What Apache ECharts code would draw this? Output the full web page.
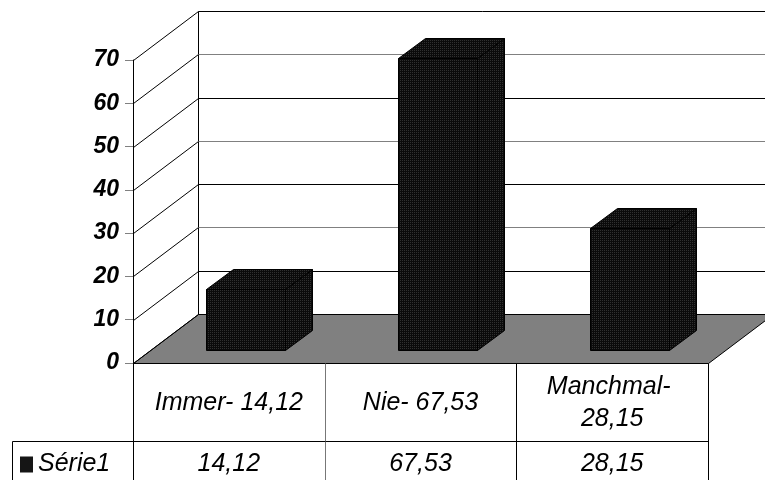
<!DOCTYPE html>
<html>
<head>
<meta charset="utf-8">
<script src="https://cdn.jsdelivr.net/npm/echarts@6/dist/echarts.min.js"></script>
<style>
  html, body { margin: 0; padding: 0; background: #fff; }
  #chart { width: 765px; height: 480px; }
</style>
</head>
<body>
<div id="chart"></div>
<script>
// ---- data ----
const categories = ['Immer- 14,12', 'Nie- 67,53', 'Manchmal- 28,15'];
const seriesName = 'Série1';
const values = [14.12, 67.53, 28.15];
const yTicks = [0, 10, 20, 30, 40, 50, 60, 70];

// ---- 3-D box geometry (pixel offsets) ----
const WALL_DX = 65, WALL_DY = -49;      // front plane -> back wall
const BAR_DX = 17, BAR_DY = -13;        // front plane -> bar front face
const BAR_DEPTH_DX = 27, BAR_DEPTH_DY = -20;
const BAR_WIDTH_RATIO = 0.41;
const ROW1_H = 78;                       // height of the category row of the data table
const TABLE_LEFT = 12;
const FONT = '"Liberation Sans", Arial, sans-serif';

function fmt(v) { return v.toFixed(2).replace('.', ','); }

// dotted dark fill used on the bar faces
function makePattern() {
  const c = document.createElement('canvas');
  c.width = 2; c.height = 2;
  const g = c.getContext('2d');
  g.fillStyle = '#0b0b0b';
  g.fillRect(0, 0, 2, 2);
  g.fillStyle = '#303030';
  g.fillRect(0, 0, 1, 1);
  return c;
}
const barFill = { image: makePattern(), repeat: 'repeat' };

const chart = echarts.init(document.getElementById('chart'), null, { renderer: 'canvas' });

const option = {
  animation: false,
  backgroundColor: '#fff',
  grid: { left: 133, top: 60, width: 575, bottom: 117, containLabel: false },
  legend: {
    data: [seriesName],
    left: 20,
    top: 452,
    padding: 0,
    icon: 'rect',
    itemWidth: 13,
    itemHeight: 16,
    selectedMode: false,
    textStyle: { fontFamily: FONT, fontStyle: 'italic', fontSize: 25, color: '#000' }
  },
  xAxis: {
    type: 'category',
    data: categories,
    axisLine: { show: true, lineStyle: { color: '#000', width: 1 } },
    axisTick: { show: false },
    axisLabel: { show: false },
    splitLine: { show: false }
  },
  yAxis: {
    type: 'value',
    min: yTicks[0],
    max: yTicks[yTicks.length - 1],
    interval: 10,
    axisLine: { show: true, lineStyle: { color: '#000', width: 1 } },
    axisTick: { show: true, length: 8, lineStyle: { color: '#808080' } },
    axisLabel: {
      margin: 14,
      color: '#000',
      fontFamily: FONT,
      fontStyle: 'italic',
      fontWeight: 'bold',
      fontSize: 23
    },
    splitLine: { show: false }
  },
  series: [
    {
      // side wall, back wall and floor
      type: 'custom',
      name: 'frame',
      silent: true,
      clip: false,
      data: yTicks.map(t => [0, t]),
      renderItem(params, api) {
        const cs = params.coordSys;
        const v = api.value(1);
        const y = Math.round(api.coord([0, v])[1]) + 0.5;
        const x = cs.x + 0.5;
        const children = [];
        if (params.dataIndex === 0) {
          const yTop = Math.round(api.coord([0, yTicks[yTicks.length - 1]])[1]) + 0.5;
          children.push({
            type: 'polygon',
            shape: { points: [[x, y], [x + cs.width, y], [x + cs.width + WALL_DX, y + WALL_DY], [x + WALL_DX, y + WALL_DY]] },
            style: { fill: '#808080', stroke: '#000', lineWidth: 1 }
          });
          children.push({
            type: 'line',
            shape: { x1: x + WALL_DX, y1: y + WALL_DY, x2: x + WALL_DX, y2: yTop + WALL_DY },
            style: { stroke: '#000', lineWidth: 1 }
          });
        }
        const idx = params.dataIndex;
        const gray = idx > 0 && idx < yTicks.length - 1 && idx % 2 === 0;
        children.push({
          type: 'line',
          shape: { x1: x, y1: y, x2: x + WALL_DX, y2: y + WALL_DY },
          style: { stroke: '#000', lineWidth: 1 }
        });
        children.push({
          type: 'line',
          shape: { x1: x + WALL_DX, y1: y + WALL_DY, x2: x + WALL_DX + cs.width + 10, y2: y + WALL_DY },
          style: { stroke: gray ? '#808080' : '#000', lineWidth: 1 }
        });
        return { type: 'group', children };
      }
    },
    {
      // 3-D columns
      type: 'custom',
      name: seriesName,
      clip: false,
      itemStyle: { color: '#151515' },
      data: values.map((v, i) => [i, v]),
      renderItem(params, api) {
        const i = api.value(0);
        const v = api.value(1);
        const base = api.coord([i, 0]);
        const top = api.coord([i, v]);
        const band = api.size([1, 0])[0];
        const w = Math.round(band * BAR_WIDTH_RATIO);
        const x0 = Math.round(base[0] - w / 2 + BAR_DX) + 0.5;
        const x1 = x0 + w;
        const yb = Math.round(base[1] + BAR_DY) + 0.5;
        const yt = Math.round(top[1] + BAR_DY) + 0.5;
        const dx = BAR_DEPTH_DX, dy = BAR_DEPTH_DY;
        const st = { fill: barFill, stroke: '#000', lineWidth: 1 };
        return {
          type: 'group',
          children: [
            { type: 'polygon', shape: { points: [[x1, yt], [x1 + dx, yt + dy], [x1 + dx, yb + dy], [x1, yb]] }, style: st },
            { type: 'polygon', shape: { points: [[x0, yt], [x1, yt], [x1 + dx, yt + dy], [x0 + dx, yt + dy]] }, style: st },
            { type: 'rect', shape: { x: x0, y: yt, width: w, height: yb - yt }, style: st }
          ]
        };
      }
    },
    {
      // data table under the plot
      type: 'custom',
      name: 'table',
      silent: true,
      clip: false,
      data: values.map((v, i) => [i, v]),
      renderItem(params, api) {
        const cs = params.coordSys;
        const i = api.value(0);
        const v = api.value(1);
        const band = api.size([1, 0])[0];
        const cx = api.coord([i, 0])[0];
        const left = Math.round(cx - band / 2) + 0.5;
        const right = Math.round(cx + band / 2) + 0.5;
        const top = Math.round(cs.y + cs.height) + 0.5;
        const split = top + ROW1_H;
        const bottom = api.getHeight() + 2;
        const ln = (x1, y1, x2, y2, c) => ({ type: 'line', shape: { x1, y1, x2, y2 }, style: { stroke: c || '#000', lineWidth: 1 } });
        const children = [
          ln(left, top, left, bottom, i === 1 ? '#777' : '#000'),
          ln(left, split, right, split)
        ];
        if (i === categories.length - 1) children.push(ln(right, top, right, bottom));
        if (i === 0) {
          children.push(ln(TABLE_LEFT + 0.5, split, left, split));
          children.push(ln(TABLE_LEFT + 0.5, split, TABLE_LEFT + 0.5, bottom));
        }
        children.push({
          type: 'text',
          x: cx, y: top + ROW1_H / 2 + 1,
          style: {
            text: categories[i],
            width: 155,
            overflow: 'break',
            lineHeight: 32,
            align: 'center',
            verticalAlign: 'middle',
            fontFamily: FONT, fontStyle: 'italic', fontSize: 25,
            fill: '#000'
          }
        });
        children.push({
          type: 'text',
          x: cx, y: split + 23,
          style: {
            text: fmt(v),
            align: 'center',
            verticalAlign: 'middle',
            fontFamily: FONT, fontStyle: 'italic', fontSize: 25,
            fill: '#000'
          }
        });
        return { type: 'group', children };
      }
    }
  ]
};

chart.setOption(option);
</script>
</body>
</html>
